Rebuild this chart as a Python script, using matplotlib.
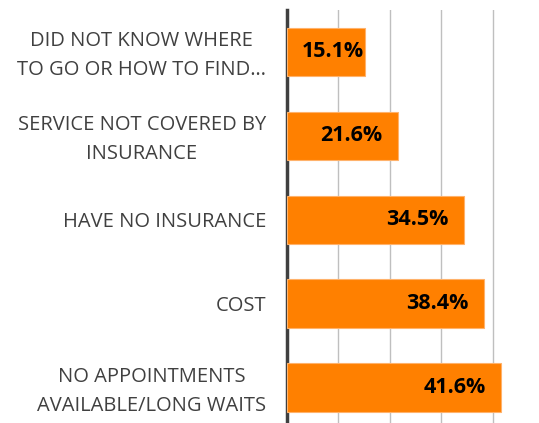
import numpy as np
import matplotlib.pyplot as plt
from matplotlib.transforms import ScaledTranslation

categories = [
    'NO APPOINTMENTS\nAVAILABLE/LONG WAITS',
    'COST',
    'HAVE NO INSURANCE',
    'SERVICE NOT COVERED BY\nINSURANCE',
    'DID NOT KNOW WHERE\nTO GO OR HOW TO FIND\u2026',
]
values = [41.6, 38.4, 34.5, 21.6, 15.1]
value_labels = ['41.6%', '38.4%', '34.5%', '21.6%', '15.1%']

bar_color = '#FF8000'
text_color = '#404040'

fig = plt.figure(figsize=(5.39, 4.23), dpi=100)
ax = fig.add_axes([287 / 539, 0.0, 257 / 539, 413 / 423])

y = np.arange(len(categories))
ax.barh(y, values, height=0.58, color=bar_color, edgecolor='#FFB26B', linewidth=0.8, zorder=3)

# inside-end labels, but keep short bars' labels clear of the axis
for yi, v, lab in zip(y, values, value_labels):
    x_right = max(v - 3.0, 15.0)
    ax.text(x_right, yi, lab, ha='right', va='center', fontsize=15.5,
            fontweight='bold', color='black', family='Open Sans', zorder=4)

ax.set_xlim(0, 50)
ax.set_ylim(-0.42, 4.5)
ax.set_xticks([10, 20, 30, 40])
ax.xaxis.grid(True, color='#BFBFBF', linewidth=1, zorder=0)
ax.tick_params(axis='x', length=0, labelbottom=False)
ax.tick_params(axis='y', length=0, pad=15)
ax.set_yticks(y)
ax.set_yticklabels(categories, fontsize=14.5, color=text_color, family='Open Sans',
                   multialignment='center', linespacing=1.6)
# two-line labels sit a little high in the original
shift = ScaledTranslation(0, 0.03, fig.dpi_scale_trans)
for t in ax.get_yticklabels():
    if '\n' in t.get_text():
        t.set_transform(t.get_transform() + shift)

for s in ['top', 'right', 'bottom']:
    ax.spines[s].set_visible(False)
ax.spines['left'].set_color(text_color)
ax.spines['left'].set_linewidth(2.5)

fig.savefig('out.png', dpi=100)
